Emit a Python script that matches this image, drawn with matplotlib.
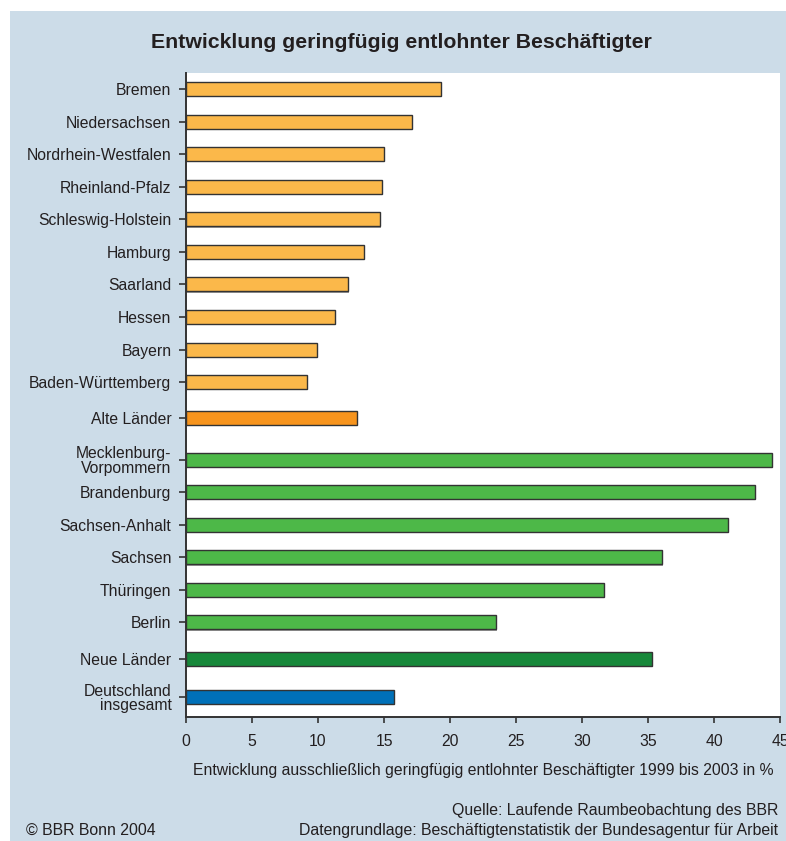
import matplotlib
matplotlib.use("Agg")
import matplotlib.pyplot as plt
from matplotlib.patches import Rectangle

plt.rcParams['font.family'] = ['Liberation Sans', 'DejaVu Sans']

# Länder and growth of marginally employed 1999-2003 (%)
labels = [
    "Bremen", "Niedersachsen", "Nordrhein-Westfalen", "Rheinland-Pfalz",
    "Schleswig-Holstein", "Hamburg", "Saarland", "Hessen", "Bayern",
    "Baden-Württemberg", "Alte Länder",
    "Mecklenburg-\nVorpommern", "Brandenburg", "Sachsen-Anhalt", "Sachsen",
    "Thüringen", "Berlin", "Neue Länder",
    "Deutschland\ninsgesamt",
]
values = [19.3, 17.1, 15.0, 14.85, 14.7, 13.5, 12.3, 11.3, 9.9, 9.2, 12.95,
          44.4, 43.1, 41.05, 36.05, 31.7, 23.5, 35.3, 15.75]
groups = ["west"] * 10 + ["west_total"] + ["east"] * 6 + ["east_total"] + ["de"]

colors = {
    "west": "#FBB84A",
    "west_total": "#F7941D",
    "east": "#4DB848",
    "east_total": "#17883A",
    "de": "#0070B8",
}
# extra spacing inserted before a bar (in bar-slot units)
gap_before = {10: 0.09, 11: 0.29, 17: 0.12, 18: 0.17}

ticks = [0, 5, 10, 15, 20, 25, 30, 35, 40, 45]

ypos = []
y = 0.0
for i in range(len(labels)):
    if i > 0:
        y += 1.0 + gap_before.get(i, 0.0)
    ypos.append(y)

bg = "#CCDCE8"
fig = plt.figure(figsize=(7.86, 8.41), dpi=100)
fig.patches.append(Rectangle((10 / 786, 0), 1, (841 - 11) / 841,
                             transform=fig.transFigure, facecolor=bg,
                             edgecolor="none", zorder=-5))

ax = fig.add_axes([186 / 786, (841 - 717) / 841, (780 - 186) / 786, (717 - 73) / 841])
ax.set_zorder(2)
ax.set_facecolor("white")

bar_h = 0.43
for yi, v, g in zip(ypos, values, groups):
    # soft grey shadow under each bar
    ax.barh(yi + 0.04, v + 0.08, height=bar_h, color="#9a9a9a", edgecolor="none",
            zorder=1)
    ax.barh(yi, v, height=bar_h, color=colors[g], edgecolor="#333333",
            linewidth=1.0, zorder=2)

ax.set_xlim(0, 45)
ax.set_ylim(ypos[-1] + (717 - 697) / 32.6, -(89 - 73) / 32.6)
ax.set_yticks(ypos)
ax.set_yticklabels(labels, fontsize=11.3, color="#231f20", linespacing=0.95)
ax.set_xticks(ticks)
ax.set_xticklabels([str(t) for t in ticks], fontsize=11.3, color="#231f20")

for s in ["top", "right"]:
    ax.spines[s].set_visible(False)
for s in ["left", "bottom"]:
    ax.spines[s].set_color("#333333")
    ax.spines[s].set_linewidth(1.4)
ax.tick_params(axis="y", length=5, width=1.2, color="#333333", pad=5.5)
ax.tick_params(axis="x", length=4, width=1.2, color="#333333", pad=8)

ax.set_xlabel("Entwicklung ausschließlich geringfügig entlohnter Beschäftigter 1999 bis 2003 in %",
              fontsize=11.3, color="#231f20", labelpad=10)

fig.text(401 / 786, 1 - 42 / 841, "Entwicklung geringfügig entlohnter Beschäftigter",
         ha="center", va="center", fontsize=15.3, fontweight="bold", color="#231f20")
fig.text(778 / 786, 1 - 811 / 841, "Quelle: Laufende Raumbeobachtung des BBR",
         ha="right", va="center", fontsize=11.4, color="#231f20")
fig.text(778 / 786, 1 - 830 / 841,
         "Datengrundlage: Beschäftigtenstatistik der Bundesagentur für Arbeit",
         ha="right", va="center", fontsize=11.4, color="#231f20")
fig.text(26 / 786, 1 - 830 / 841, "© BBR Bonn 2004",
         ha="left", va="center", fontsize=11.4, color="#231f20")

fig.savefig("out.png", dpi=100, facecolor="white")
